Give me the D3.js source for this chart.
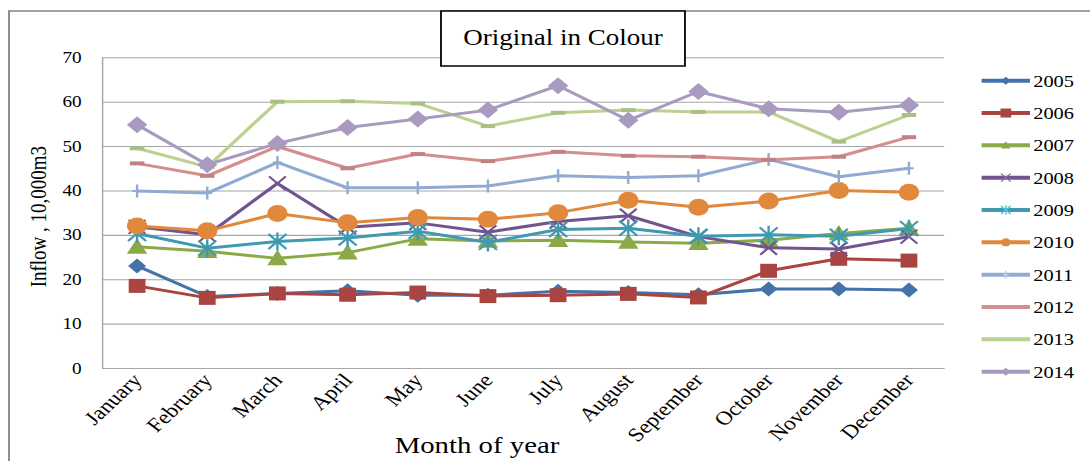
<!DOCTYPE html>
<html>
<head>
<meta charset="utf-8">
<script src="https://cdn.jsdelivr.net/npm/d3@7"></script>
<style>
  html, body { margin: 0; padding: 0; background: #fff; }
  svg { display: block; }
  text { font-family: "Liberation Serif", "Times New Roman", serif; fill: #000; }
</style>
</head>
<body>
<svg id="chart" width="1090" height="461"></svg>
<script>
// Monthly inflow (10,000 m3), one list per year
const months = ["January", "February", "March", "April", "May", "June",
                "July", "August", "September", "October", "November", "December"];
const years = ["2005", "2006", "2007", "2008", "2009", "2010", "2011", "2012", "2013", "2014"];
const yTicks = [0, 10, 20, 30, 40, 50, 60, 70];

const inflow2005 = [23.0, 16.1, 16.8, 17.4, 16.4, 16.4, 17.3, 17.0, 16.5, 17.8, 17.8, 17.6];
const inflow2006 = [18.5, 15.8, 16.8, 16.5, 17.0, 16.2, 16.4, 16.7, 15.9, 21.9, 24.6, 24.2];
const inflow2007 = [27.3, 26.3, 24.7, 26.0, 29.1, 28.6, 28.8, 28.4, 28.1, 28.8, 30.3, 31.5];
const inflow2008 = [31.8, 30.0, 41.6, 31.7, 32.7, 30.6, 33.0, 34.3, 29.6, 27.1, 26.8, 29.6];
const inflow2009 = [30.3, 27.0, 28.5, 29.3, 30.8, 28.3, 31.2, 31.5, 29.7, 30.0, 29.7, 31.4];
const inflow2010 = [32.0, 30.9, 34.8, 32.7, 33.9, 33.5, 35.0, 37.8, 36.2, 37.6, 40.0, 39.6];
const inflow2011 = [39.9, 39.4, 46.3, 40.6, 40.6, 41.0, 43.3, 42.9, 43.3, 47.0, 43.1, 45.0];
const inflow2012 = [46.1, 43.3, 49.9, 45.0, 48.2, 46.6, 48.7, 47.8, 47.6, 46.9, 47.6, 52.0];
const inflow2013 = [49.5, 45.3, 60.0, 60.1, 59.6, 54.5, 57.5, 58.1, 57.7, 57.7, 51.0, 57.0];
const inflow2014 = [54.8, 45.8, 50.6, 54.2, 56.1, 58.1, 63.6, 55.8, 62.3, 58.4, 57.6, 59.2];

const seriesValues = [inflow2005, inflow2006, inflow2007, inflow2008, inflow2009,
                      inflow2010, inflow2011, inflow2012, inflow2013, inflow2014];
const colors = ["#4572A9", "#AA4441", "#8BAA47", "#71548F", "#3F9AB1",
                "#E0883C", "#90AAD3", "#D48E8D", "#BAD190", "#A99ABF"];
const markerTypes = ["diamond", "square", "triangle", "cross", "star",
                     "circle", "plus", "dash", "dash", "diamond"];
const markerRadius = [7.5, 7, 8.5, 7, 7.5, 8.5, 6.5, 6, 6, 8.5];

const series = years.map((yr, i) => ({
  name: yr, values: seriesValues[i], color: colors[i],
  marker: markerTypes[i], r: markerRadius[i]
}));

// The whole drawing is laid out in a narrower frame and widened horizontally.
const SX = 1.2;
const svg = d3.select("#chart");
svg.append("rect").attr("width", 1090).attr("height", 461).attr("fill", "#fff");
const root = svg.append("g").attr("transform", `scale(${SX},1)`);

const plot = { left: 85, right: 786.7, top: 57.3, bottom: 368 };

// outer frame
root.append("rect")
  .attr("x", 7.5).attr("y", 11).attr("width", 1200).attr("height", 600)
  .attr("fill", "none").attr("stroke", "#8a8a8a").attr("stroke-width", 1.6);

const x = d3.scaleBand().domain(months).range([plot.left, plot.right]).padding(0);
const xc = m => x(m) + x.bandwidth() / 2;
const y = d3.scaleLinear().domain([0, 70]).range([plot.bottom, plot.top]);

// horizontal gridlines
const grid = root.append("g").attr("transform", `translate(${plot.left},0)`)
  .call(d3.axisLeft(y).tickValues(yTicks).tickSize(-(plot.right - plot.left)).tickFormat(""));
grid.select(".domain").remove();
grid.selectAll(".tick line").attr("stroke", "#a6a6a6").attr("stroke-width", 1.1);

// y axis with labels
const yAxis = root.append("g").attr("transform", `translate(${plot.left},0)`)
  .call(d3.axisLeft(y).tickValues(yTicks).tickSize(0).tickPadding(17));
yAxis.select(".domain").attr("stroke", "#a6a6a6").attr("stroke-width", 1.2);
yAxis.selectAll("text").attr("font-size", 16).attr("fill", "#000")
  .style("font-family", '"Liberation Serif", serif');

// x axis with slanted month names
const xAxis = root.append("g").attr("transform", `translate(0,${plot.bottom})`)
  .call(d3.axisBottom(x).tickSize(0).tickPadding(0));
xAxis.select(".domain").attr("stroke", "#a6a6a6").attr("stroke-width", 1.2);
xAxis.selectAll("text")
  .attr("font-size", 19.5).attr("fill", "#000")
  .style("font-family", '"Liberation Serif", serif')
  .attr("text-anchor", "end")
  .attr("x", 0).attr("y", 0).attr("dy", "0")
  .attr("transform", "translate(5,13) rotate(-48)");

// axis titles
root.append("text")
  .attr("transform", `translate(38,${(plot.top + plot.bottom) / 2 + 4}) rotate(-90)`)
  .attr("text-anchor", "middle").attr("font-size", 19)
  .text("Inflow , 10,000m3");
root.append("text")
  .attr("x", 397.5).attr("y", 453)
  .attr("text-anchor", "middle").attr("font-size", 24)
  .text("Month of year");

// marker shapes
function markerPath(type, r) {
  switch (type) {
    case "diamond": return `M0,${-r}L${r},0L0,${r}L${-r},0Z`;
    case "square": return `M${-r},${-r}H${r}V${r}H${-r}Z`;
    case "triangle": return `M0,${-r}L${r},${r * 0.8}L${-r},${r * 0.8}Z`;
    case "cross": return `M${-r},${-r}L${r},${r}M${-r},${r}L${r},${-r}`;
    case "star": return `M${-r},${-r}L${r},${r}M${-r},${r}L${r},${-r}M0,${-r * 1.2}L0,${r * 1.2}`;
    case "plus": return `M${-r * 0.6},0H${r * 0.6}M0,${-r}V${r}`;
    case "dash": return `M${-r},-2H${r}V2H${-r}Z`;
    case "circle": return d3.arc()({ innerRadius: 0, outerRadius: r, startAngle: 0, endAngle: 2 * Math.PI });
  }
}
const strokeOnly = t => t === "cross" || t === "star" || t === "plus";

const line = d3.line().x((d, i) => xc(months[i])).y(d => y(d));

const seriesG = root.append("g").selectAll("g").data(series).join("g");
seriesG.append("path")
  .attr("d", d => line(d.values))
  .attr("fill", "none").attr("stroke", d => d.color)
  .attr("stroke-width", 3).attr("stroke-linejoin", "round");
seriesG.each(function (s) {
  d3.select(this).selectAll("path.mk").data(s.values).join("path")
    .attr("class", "mk")
    .attr("transform", (d, i) => `translate(${xc(months[i])},${y(d)})`)
    .attr("d", markerPath(s.marker, s.r))
    .attr("fill", strokeOnly(s.marker) ? "none" : (s.marker === "dash" ? d3.color(s.color).darker(0.25) : s.color))
    .attr("stroke", strokeOnly(s.marker) ? s.color : "none")
    .attr("stroke-width", strokeOnly(s.marker) ? 2 : 0);
});

// title box
root.append("rect")
  .attr("x", 367.5).attr("y", 11).attr("width", 203.3).attr("height", 55)
  .attr("fill", "#fff").attr("stroke", "#000").attr("stroke-width", 1.5);
root.append("text")
  .attr("x", 469.2).attr("y", 45).attr("text-anchor", "middle")
  .attr("font-size", 22.5).text("Original in Colour");

// legend
const legendY = d3.scalePoint().domain(years).range([80.7, 371.7]);
const legend = root.append("g").selectAll("g").data(series).join("g")
  .attr("transform", d => `translate(818,${legendY(d.name)})`);
legend.append("line")
  .attr("x1", 0).attr("x2", 40.3).attr("y1", 0).attr("y2", 0)
  .attr("stroke", d => d.color).attr("stroke-width", 4);
legend.filter(d => d.marker !== "dash").append("path")
  .attr("transform", "translate(20.2,0)")
  .attr("d", d => markerPath(d.marker, d.marker === "square" ? 4.5 : 4))
  .attr("fill", d => strokeOnly(d.marker) ? "none" : d.color)
  .attr("stroke", d => strokeOnly(d.marker) ? d3.color(d.color).brighter(0.6) : "none")
  .attr("stroke-width", 1.2);
legend.append("text")
  .attr("x", 43).attr("y", 0).attr("dy", "0.35em")
  .attr("font-size", 17).text(d => d.name);
</script>
</body>
</html>
